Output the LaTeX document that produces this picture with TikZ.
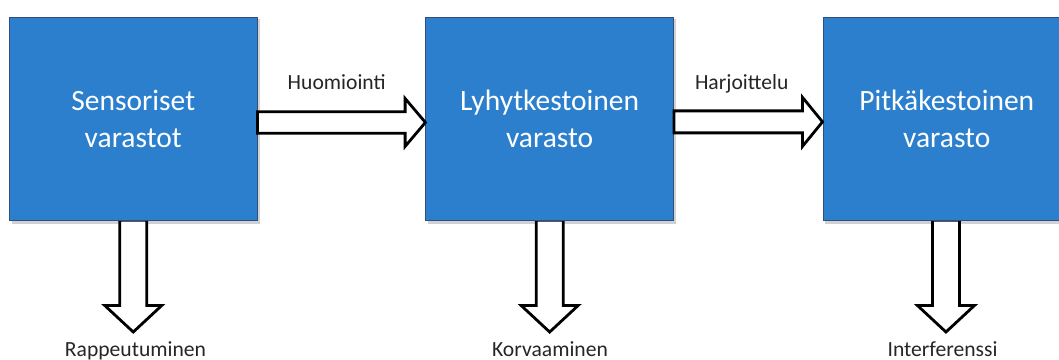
\documentclass[tikz,border=0pt]{standalone}
\usepackage{fontspec}
\setmainfont{Carlito}
\usetikzlibrary{calc}
\definecolor{boxfill}{HTML}{2B7FCD}
\definecolor{boxline}{HTML}{2F4F7F}
\tikzset{
  store/.style={draw=boxline, line width=1pt, fill=boxfill, minimum width=247.5pt, minimum height=203.7pt, inner sep=0pt, text=white, align=center, font=\fontsize{29.5}{36.7}\selectfont},
  shade box/.style={fill=black, opacity=0.18, draw=none},
  barrow/.style={draw=black, line width=2.8pt, fill=white, line join=miter},
  lbl/.style={font=\fontsize{21.6}{25}\selectfont, text=black!85, inner sep=0pt, anchor=base},
}
\begin{document}
\begin{tikzpicture}[x=1pt,y=-1pt]
\clip (0,0) rectangle (1059,359);
\fill[white] (0,0) rectangle (1059,359);
% shadows
\coordinate (c1) at (133.25,118.85);
\coordinate (c2) at (549.65,118.85);
\coordinate (c3) at (946.75,118.85);
\foreach \c in {c1,c2,c3}{
  \fill[shade box] ($(\c)+(-123.75+2,-101.85+2)$) rectangle ($(\c)+(123.75+2.5,101.85+3)$);
}
% boxes (placed first as nodes, drawn later on top of down arrows)
\path (c1) node[store, draw=none, fill=none, text=white] (s) {};
\path (c2) node[store, draw=none, fill=none] (l) {};
\path (c3) node[store, draw=none, fill=none] (p) {};
% down arrows
\foreach \n/\dx in {s/0, l/0, p/-0.8}{
  \coordinate (t) at ($(\n.south)+(\dx,0)$);
  \draw[barrow] ($(t)+(-13.5,-1)$) -- ($(t)+(-13.5,84.3)$) -- ($(t)+(-28.5,84.3)$) -- ($(t)+(0,110.8)$) -- ($(t)+(28.5,84.3)$) -- ($(t)+(13.5,84.3)$) -- ($(t)+(13.5,-1)$) -- cycle;
}
% boxes
\node[store] (s) at (c1) {Sensoriset\\varastot};
\node[store] (l) at (c2) {Lyhytkestoinen\\varasto};
\node[store] (p) at (c3) {Pitkäkestoinen\\varasto};
% horizontal arrows
\coordinate (a1t) at ($(s.east)+(0,3.6)$);
\coordinate (a1h) at ($(l.west)+(0,3.6)$);
\draw[barrow] ($(a1t)+(0,-10.8)$) -- ($(a1h)+(-20.3,-10.8)$) -- ($(a1h)+(-20.3,-24)$) -- (a1h) -- ($(a1h)+(-20.3,24)$) -- ($(a1h)+(-20.3,10.8)$) -- ($(a1t)+(0,10.8)$) -- cycle;
\coordinate (a2t) at ($(l.east)+(0,3)$);
\coordinate (a2h) at ($(p.west)+(0,3)$);
\draw[barrow] ($(a2t)+(0,-11)$) -- ($(a2h)+(-20,-11)$) -- ($(a2h)+(-20,-24.5)$) -- (a2h) -- ($(a2h)+(-20,24.5)$) -- ($(a2h)+(-20,11)$) -- ($(a2t)+(0,11)$) -- cycle;
% labels
\node[lbl] (h) at (336.7,89.3) {Huomiointi};
\node[lbl] (j) at (741.7,89.3) {Harjoittelu};
\node[lbl] (r) at (135.5,356.5) {Rappeutuminen};
\node[lbl] (k) at (550,356.5) {Korvaaminen};
\node[lbl] (i) at (942.5,356.5) {Interferenssi};
\end{tikzpicture}
\end{document}
